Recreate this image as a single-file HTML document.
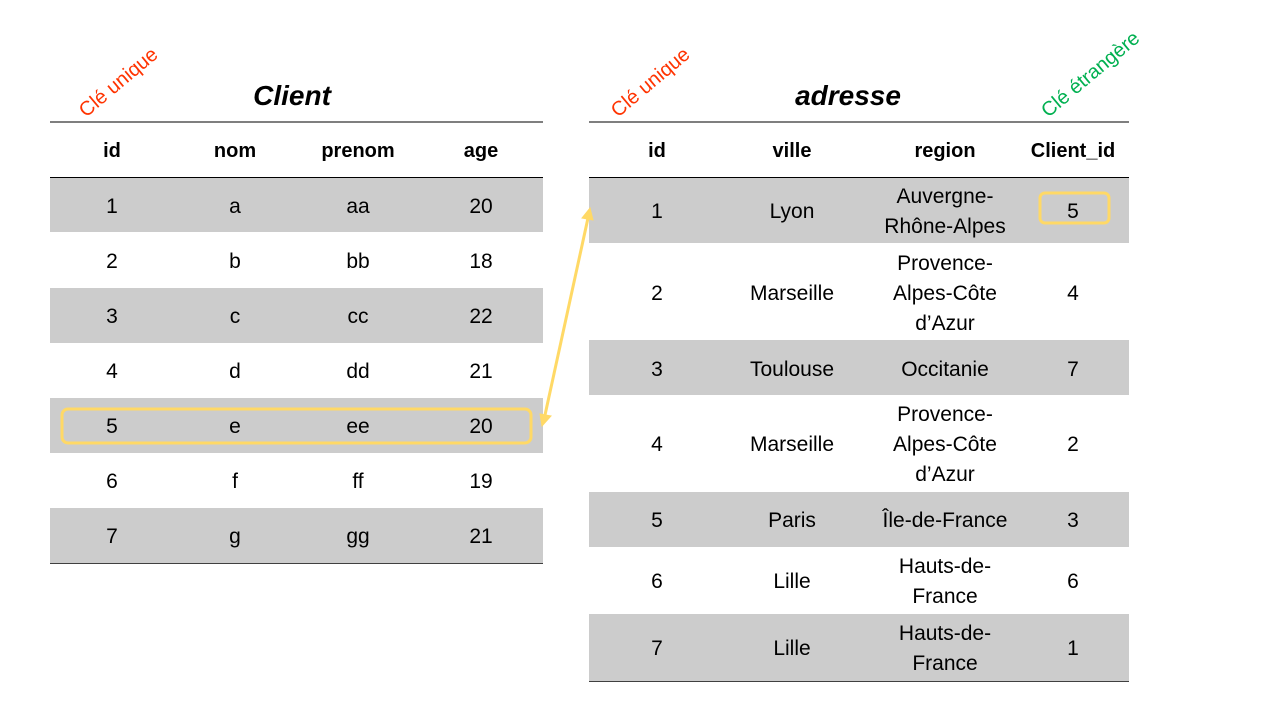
<!DOCTYPE html>
<html><head><meta charset="utf-8">
<style>
body{margin:0;width:1280px;height:720px;background:#fff;position:relative;overflow:hidden;font-family:"Liberation Sans",sans-serif;}
.a{position:absolute;}
.t{position:absolute;transform:translate(-50%,-50%);white-space:nowrap;text-align:center;font-size:21px;line-height:30px;color:#000;}
.h{font-weight:bold;font-size:20px;}
.title{font-size:28px;font-weight:bold;font-style:italic;}
.row{position:absolute;background:#cccccc;}
.rot{position:absolute;transform:translate(-50%,-50%) rotate(-40deg);font-size:20px;white-space:nowrap;}
</style></head><body>
<div class="t title" style="left:292px;top:96px">Client</div>
<div class="t title" style="left:848px;top:96px">adresse</div>
<div class="rot" style="left:119px;top:83px;color:#ff3300">Clé unique</div>
<div class="rot" style="left:651px;top:83px;color:#ff3300">Clé unique</div>
<div class="rot" style="left:1091px;top:75px;color:#00b050">Clé étrangère</div>

<div>
<div class="a" style="left:50px;top:121px;width:493px;height:2px;background:#7f7f7f"></div>
<div class="a" style="left:50px;top:177px;width:493px;height:1px;background:#000"></div>
<div class="row" style="left:50px;top:178px;width:493px;height:54px"></div>
<div class="row" style="left:50px;top:288px;width:493px;height:55px"></div>
<div class="row" style="left:50px;top:398px;width:493px;height:55px"></div>
<div class="row" style="left:50px;top:508px;width:493px;height:55px"></div>
<div class="a" style="left:50px;top:563px;width:493px;height:1px;background:#404040"></div>
</div>

<div>
<div class="a" style="left:589px;top:121px;width:540px;height:2px;background:#7f7f7f"></div>
<div class="a" style="left:589px;top:177px;width:540px;height:1px;background:#000"></div>
<div class="row" style="left:589px;top:178px;width:540px;height:65px"></div>
<div class="row" style="left:589px;top:340px;width:540px;height:55px"></div>
<div class="row" style="left:589px;top:492px;width:540px;height:55px"></div>
<div class="row" style="left:589px;top:614px;width:540px;height:67px"></div>
<div class="a" style="left:589px;top:681px;width:540px;height:1px;background:#404040"></div>
</div>

<svg class="a" style="left:0;top:0" width="1280" height="720">
<rect x="62" y="409" width="469" height="34" rx="6" fill="none" stroke="#ffd966" stroke-width="3"/>
<rect x="1040" y="193" width="69" height="30" rx="5" fill="none" stroke="#ffd966" stroke-width="3"/>
<g stroke="#ffd966" fill="#ffd966">
<line x1="545" y1="415" x2="588" y2="218" stroke-width="3"/>
<polygon points="590,208 582,218 593,220" stroke-width="1"/>
<polygon points="542,426 540,414 551,416" stroke-width="1"/>
</g>
</svg>

<script>
const leftHead=["id","nom","prenom","age"];
const leftX=[112,235,358,481];
const leftRows=[["1","a","aa","20"],["2","b","bb","18"],["3","c","cc","22"],["4","d","dd","21"],["5","e","ee","20"],["6","f","ff","19"],["7","g","gg","21"]];
const rightHead=["id","ville","region","Client_id"];
const rightX=[657,792,945,1073];
const rightRows=[["1","Lyon","Auvergne-<br>Rhône-Alpes","5"],["2","Marseille","Provence-<br>Alpes-Côte<br>d’Azur","4"],["3","Toulouse","Occitanie","7"],["4","Marseille","Provence-<br>Alpes-Côte<br>d’Azur","2"],["5","Paris","Île-de-France","3"],["6","Lille","Hauts-de-<br>France","6"],["7","Lille","Hauts-de-<br>France","1"]];
const rightY=[212,294,370,445,521,582,649];
function cell(x,y,html,cls,name){
  const d=document.createElement('div');
  d.className='t '+cls;
  d.style.left=x+'px';d.style.top=y+'px';d.innerHTML=html;
  
  
  document.body.appendChild(d);
}
leftHead.forEach((h,i)=>cell(leftX[i],151,h,'h','client-header-'+h));
leftRows.forEach((r,j)=>r.forEach((v,i)=>cell(leftX[i],207+55*j,v,'','client-cell')));
rightHead.forEach((h,i)=>cell(rightX[i],151,h,'h','adresse-header-'+h.toLowerCase()));
rightRows.forEach((r,j)=>r.forEach((v,i)=>cell(rightX[i],rightY[j],v,'','adresse-cell')));
</script>
</body></html>
